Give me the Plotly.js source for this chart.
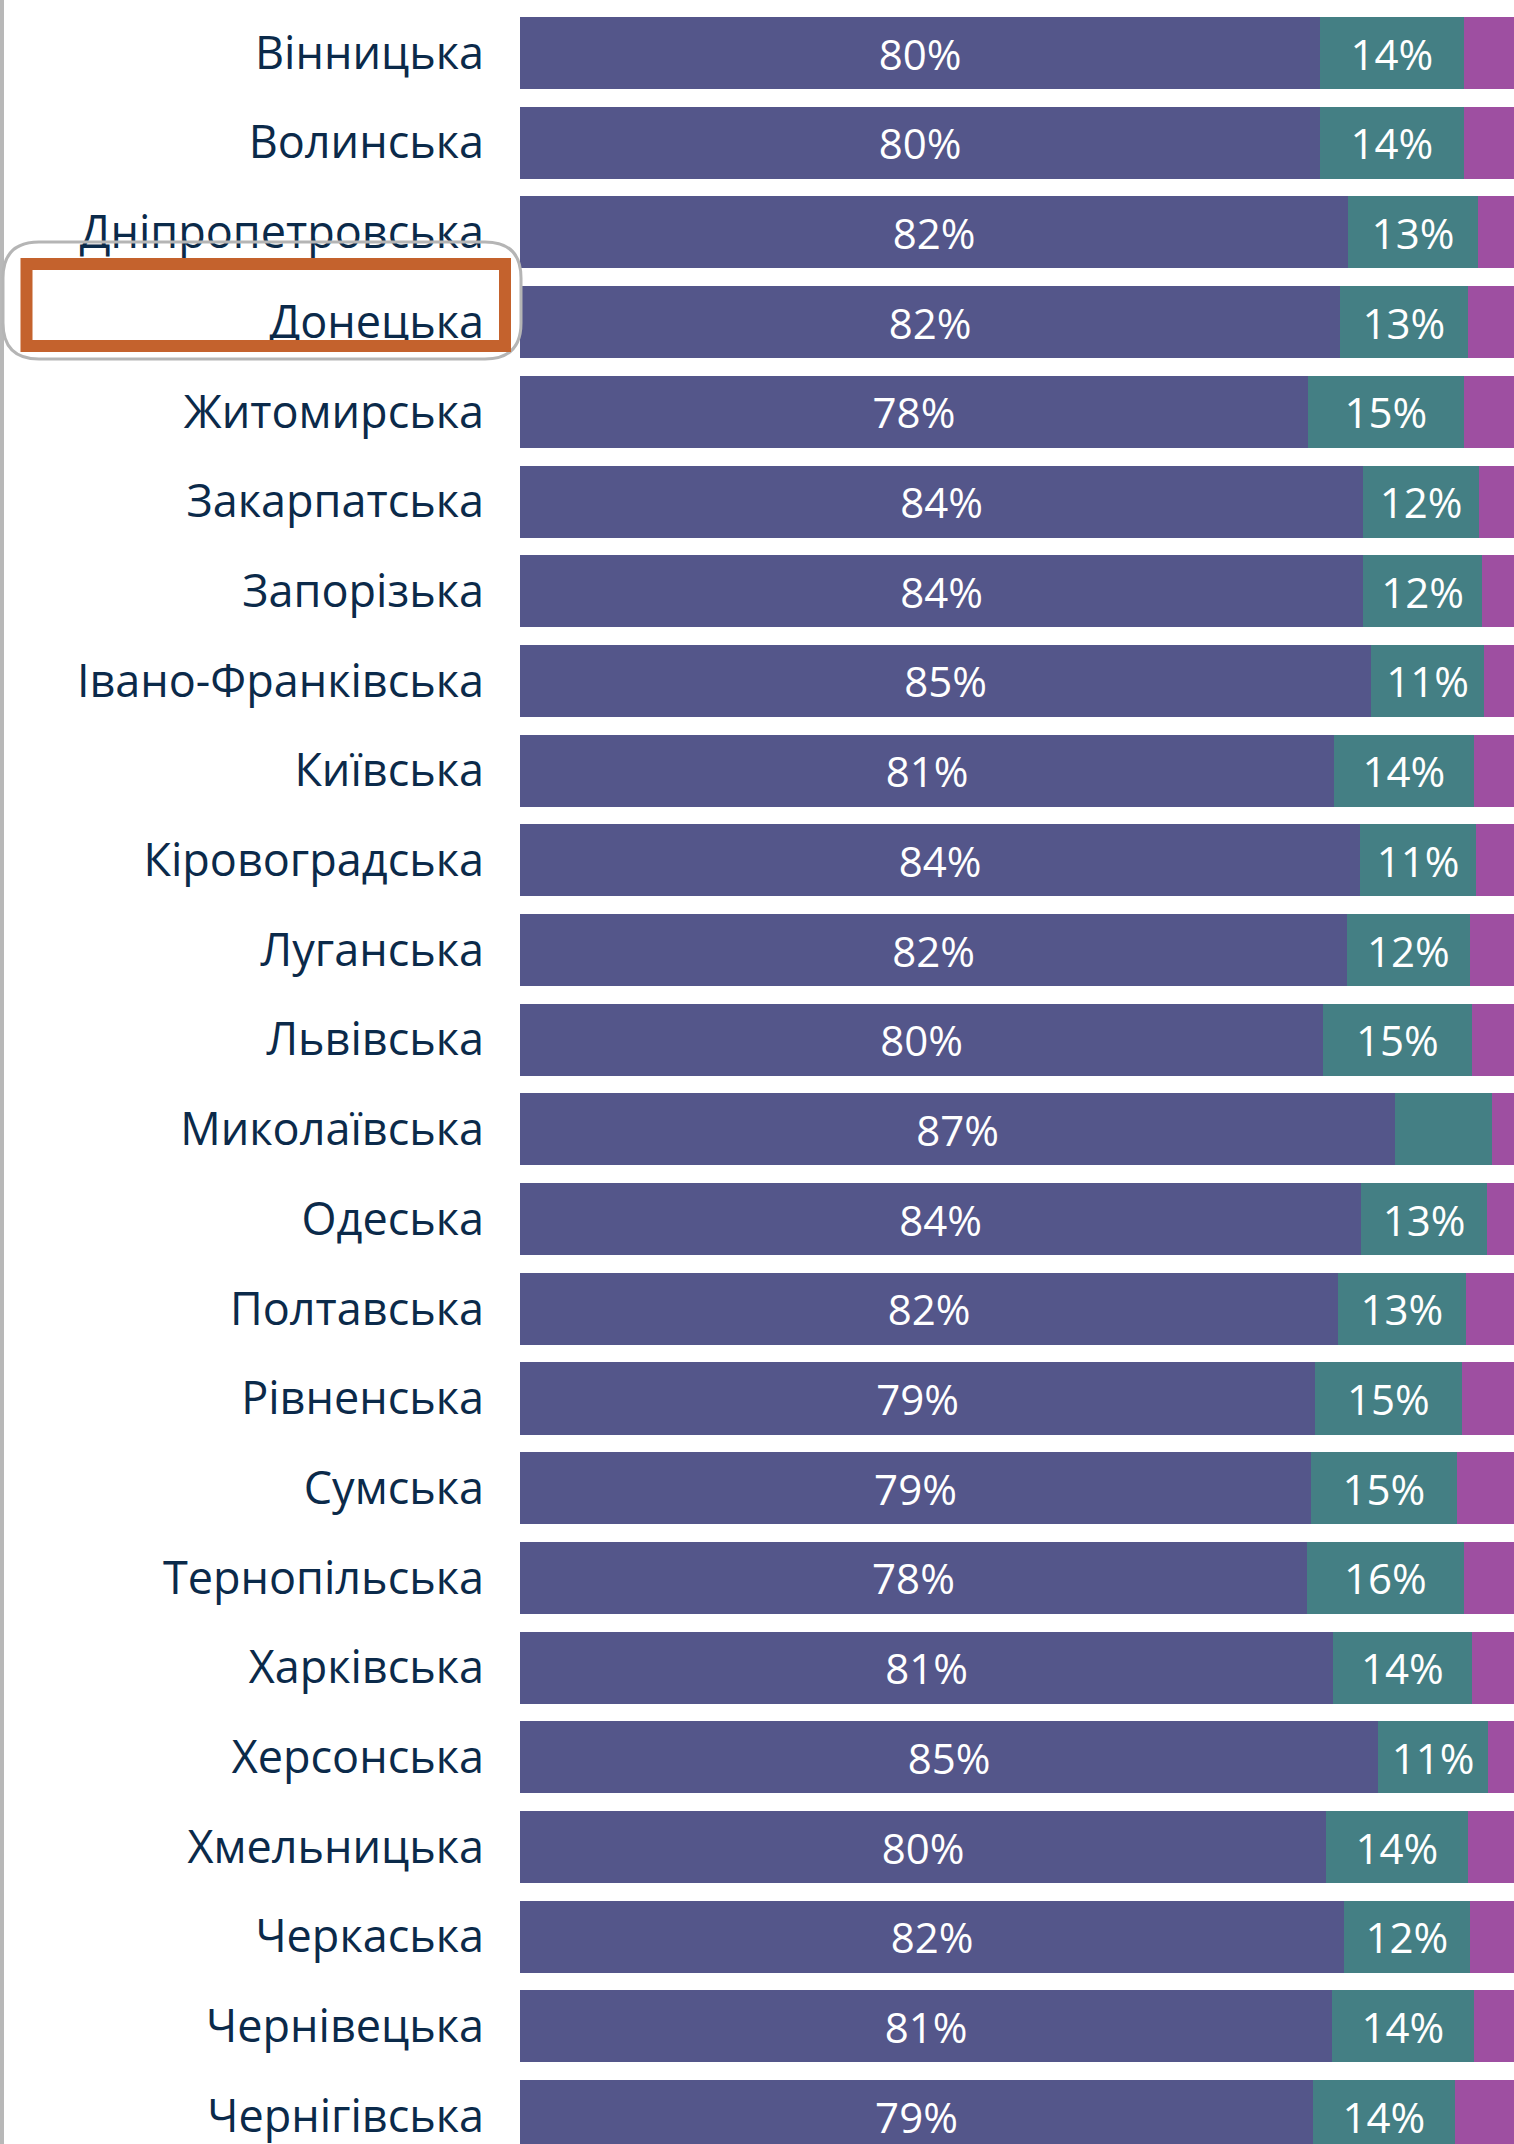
<!DOCTYPE html>
<html>
<head>
<meta charset="utf-8">
<script src="https://cdn.plot.ly/plotly-3.0.1.min.js"></script>
<style>
  html, body { margin: 0; padding: 0; background: #ffffff; overflow: hidden; }
  #chart { width: 1514px; height: 2144px; }
</style>
</head>
<body>
<div id="chart"></div>
<script>
const regions = [
  "Вінницька", "Волинська", "Дніпропетровська", "Донецька", "Житомирська",
  "Закарпатська", "Запорізька", "Івано-Франківська", "Київська", "Кіровоградська",
  "Луганська", "Львівська", "Миколаївська", "Одеська", "Полтавська",
  "Рівненська", "Сумська", "Тернопільська", "Харківська", "Херсонська",
  "Хмельницька", "Черкаська", "Чернівецька", "Чернігівська"
];

const shareA = [
  79.6, 79.6, 82.4, 81.6, 78.4,
  83.9, 83.9, 84.7, 81.0, 83.6,
  82.3, 79.9, 87.1, 83.7, 81.4,
  79.1, 78.7, 78.3, 80.9, 85.4,
  80.2, 82.0, 80.8, 78.9
];
const shareB = [
  14.3, 14.3, 12.9, 12.7, 15.5,
  11.5, 11.8, 11.2, 13.9, 11.5,
  12.2, 14.8, 9.6, 12.5, 12.7,
  14.6, 14.5, 15.6, 13.8, 10.9,
  14.1, 12.5, 14.1, 14.1
];
const shareC = [
  6.1, 6.1, 4.7, 5.7, 6.1,
  4.6, 4.3, 4.1, 5.1, 4.9,
  5.5, 5.3, 3.3, 3.8, 5.9,
  6.3, 6.8, 6.1, 5.3, 3.7,
  5.7, 5.5, 5.1, 7.0
];
const labelsA = [
  "80%", "80%", "82%", "82%", "78%",
  "84%", "84%", "85%", "81%", "84%",
  "82%", "80%", "87%", "84%", "82%",
  "79%", "79%", "78%", "81%", "85%",
  "80%", "82%", "81%", "79%"
];
const labelsB = [
  "14%", "14%", "13%", "13%", "15%",
  "12%", "12%", "11%", "14%", "11%",
  "12%", "15%", "", "13%", "13%",
  "15%", "15%", "16%", "14%", "11%",
  "14%", "12%", "14%", "14%"
];

const colA = "#54568a";
const colB = "#447f84";
const colC = "#9e4fa1";
const labelFont = { family: "Open Sans, Noto Sans, sans-serif", size: 42, color: "#ffffff" };

function barTrace(vals, color, labels) {
  return {
    type: "bar",
    orientation: "h",
    y: regions,
    x: vals,
    marker: { color: color, line: { width: 0 } },
    text: labels || null,
    textposition: labels ? "inside" : "none",
    insidetextanchor: "middle",
    textangle: 0,
    constraintext: "none",
    insidetextfont: labelFont,
    texttemplate: labels ? "%{text}" : null,
    hoverinfo: "skip"
  };
}

const data = [
  barTrace(shareA, colA, labelsA),
  barTrace(shareB, colB, labelsB),
  barTrace(shareC, colC, null)
];

const layout = {
  width: 1514,
  height: 2144,
  margin: { l: 520, r: 0, t: 0, b: 0, pad: 0 },
  paper_bgcolor: "#ffffff",
  plot_bgcolor: "#ffffff",
  barmode: "stack",
  bargap: 0.197,
  showlegend: false,
  xaxis: {
    range: [0, 98.9],
    showgrid: false,
    zeroline: false,
    showticklabels: false,
    showline: false,
    fixedrange: true
  },
  yaxis: {
    type: "category",
    categoryorder: "array",
    categoryarray: regions,
    range: [23.311, -0.591],
    showgrid: false,
    zeroline: false,
    showline: false,
    ticks: "outside",
    ticklen: 26,
    tickcolor: "rgba(0,0,0,0)",
    tickfont: { family: "Open Sans, Noto Sans, sans-serif", size: 45, color: "#0b2a4a" },
    fixedrange: true
  },
  shapes: [
    {
      type: "line", xref: "paper", yref: "paper",
      x0: -518 / 994, x1: -518 / 994, y0: 0, y1: 1,
      line: { color: "#b8b8b8", width: 4 }
    },
    {
      type: "path", xref: "paper", yref: "paper",
      path: (function () {
        const px = v => ((v - 520) / 994).toFixed(5);
        const py = v => (1 - v / 2144).toFixed(5);
        const L = 3, R = 521, T = 242, B = 359, r = 36;
        return "M " + px(L + r) + "," + py(T) +
          " L " + px(R - r) + "," + py(T) +
          " Q " + px(R) + "," + py(T) + " " + px(R) + "," + py(T + r) +
          " L " + px(R) + "," + py(B - r) +
          " Q " + px(R) + "," + py(B) + " " + px(R - r) + "," + py(B) +
          " L " + px(L + r) + "," + py(B) +
          " Q " + px(L) + "," + py(B) + " " + px(L) + "," + py(B - r) +
          " L " + px(L) + "," + py(T + r) +
          " Q " + px(L) + "," + py(T) + " " + px(L + r) + "," + py(T) + " Z";
      })(),
      line: { color: "#b5b5b5", width: 3 },
      fillcolor: "rgba(0,0,0,0)",
      layer: "above"
    },
    {
      type: "rect", xref: "paper", yref: "paper",
      x0: (26.5 - 520) / 994, x1: (505 - 520) / 994,
      y0: 1 - 346 / 2144, y1: 1 - 264 / 2144,
      line: { color: "#c4622d", width: 12 },
      fillcolor: "rgba(0,0,0,0)",
      layer: "above"
    }
  ]
};

Plotly.newPlot("chart", data, layout, { displayModeBar: false, staticPlot: true });
</script>
</body>
</html>
